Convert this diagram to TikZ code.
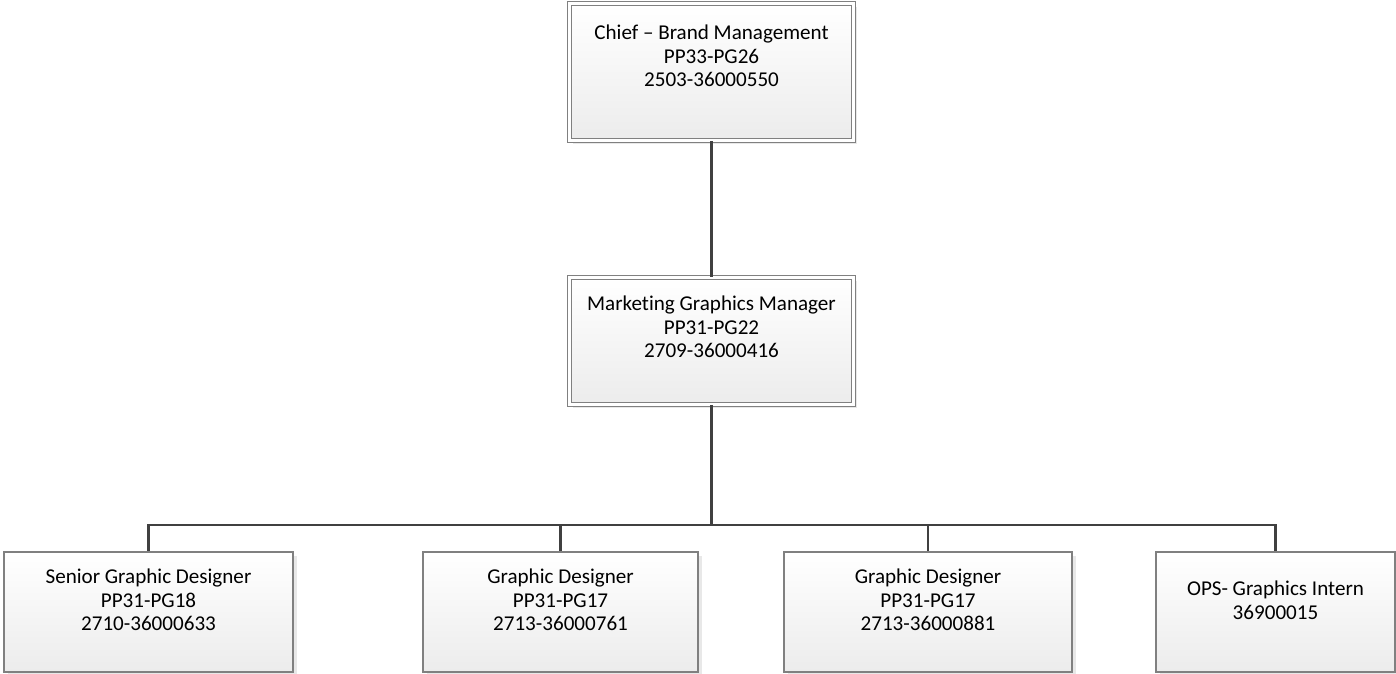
\documentclass[tikz,border=0pt]{standalone}
\usepackage{fontspec}
\setmainfont[Ligatures=NoCommon]{Carlito}
\usetikzlibrary{positioning,shadows}

\definecolor{edgegray}{HTML}{808080}
\definecolor{linkgray}{HTML}{404040}

\begin{document}
\begin{tikzpicture}[
  x=0.025cm, y=-0.025cm,
  box/.style={draw=edgegray, line width=0.8pt, top color=white, bottom color=gray!15, inner sep=0pt,
    drop shadow={shadow xshift=0.09cm, shadow yshift=-0.09cm, fill=gray!30, opacity=0.6}},
  headbox/.style={box, double=white, double distance=2.2pt},
  txt/.style={align=center, font=\fontsize{15}{16.8}\selectfont, text=black},
  link/.style={draw=linkgray, line width=1.7pt}
]
\useasboundingbox (0,0) rectangle (1396,674);

% top of the chart
\node[headbox, minimum width=7.1cm, minimum height=3.425cm] (chief) at (711.5,72) {};
\node[headbox, minimum width=7.1cm, minimum height=3.175cm] (mgr) at (711.5,341) {};

% designers row
\node[box, minimum width=7.225cm, minimum height=3cm] (senior) at (148.5,612) {};
\node[box, minimum width=6.875cm, minimum height=3cm] (gdA) at (560.5,612) {};
\node[box, minimum width=7.2cm, minimum height=3cm] (gdB) at (928,612) {};
\node[box, minimum width=5.975cm, minimum height=3cm] (intern) at (1275.5,612) {};

% texts
\node[txt] (chiefTxt) at ([yshift=0.4cm]chief.center) {Chief -- Brand Management\\PP33-PG26\\2503-36000550};
\node[txt] (mgrTxt) at ([yshift=0.35cm]mgr.center) {Marketing Graphics Manager\\PP31-PG22\\2709-36000416};
\node[txt] (seniorTxt) at ([yshift=0.3cm]senior.center) {Senior Graphic Designer\\PP31-PG18\\2710-36000633};
\node[txt] (gdATxt) at ([yshift=0.3cm]gdA.center) {Graphic Designer\\PP31-PG17\\2713-36000761};
\node[txt] (gdBTxt) at ([yshift=0.3cm]gdB.center) {Graphic Designer\\PP31-PG17\\2713-36000881};
\node[txt] (internTxt) at ([yshift=0.3cm]intern.center) {OPS- Graphics Intern\\36900015};

% connectors
\draw[link] (chief) -- (mgr);
\draw[link] (mgr.south) -- ++(0,120) coordinate (bus);
\draw[link] (bus) -| (senior.north);
\draw[link] (bus) -| (gdA.north);
\draw[link] (bus) -| (gdB.north);
\draw[link] (bus) -| (intern.north);
\end{tikzpicture}
\end{document}
